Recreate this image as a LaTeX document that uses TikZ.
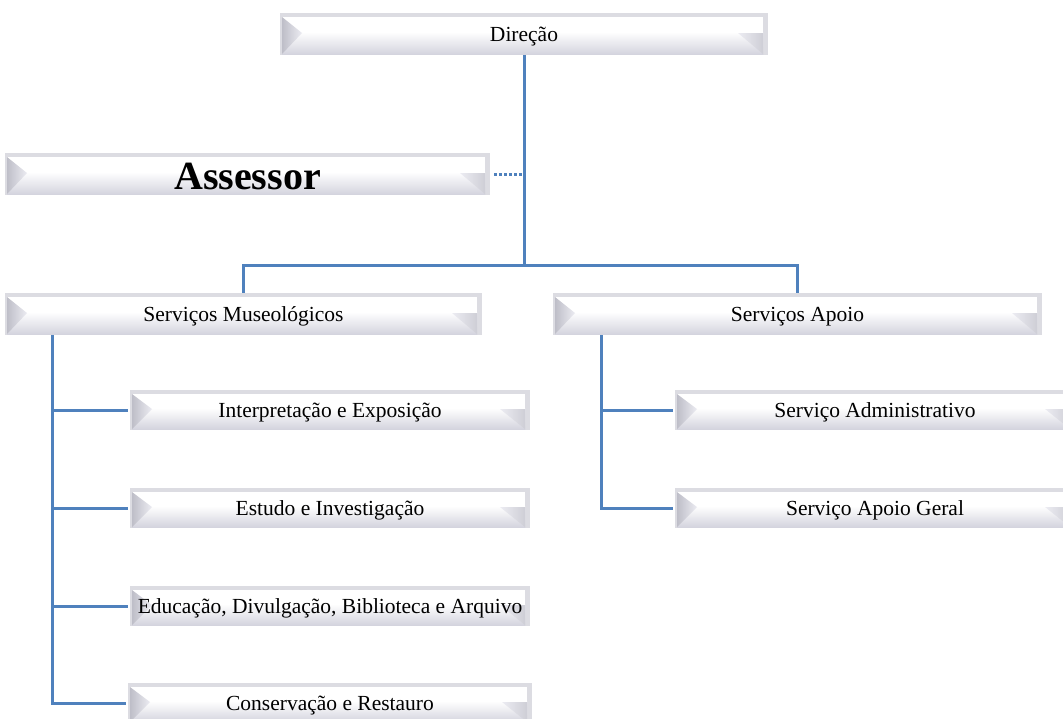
\documentclass[tikz,border=0pt]{standalone}
\usepackage{fontspec}
\setmainfont{Liberation Serif}
\usetikzlibrary{calc}
\definecolor{framegray}{RGB}{220,220,226}
\definecolor{wedgegray}{RGB}{190,190,200}
\definecolor{wedgelight}{RGB}{236,236,242}
\definecolor{rwedge}{RGB}{206,206,214}
\definecolor{botgray}{RGB}{212,212,222}
\definecolor{linkblue}{RGB}{79,129,189}
\tikzset{
  bevbox/.style 2 args={minimum width=#1, minimum height=#2, inner sep=0pt,
    font=\fontsize{21.5}{24}\selectfont, text height=19pt, text depth=4pt,
    path picture={
      \path (path picture bounding box.north west) coordinate (pA)
            (path picture bounding box.south east) coordinate (pB)
            (path picture bounding box.south west) coordinate (pC)
            (path picture bounding box.west) coordinate (pM)
            (path picture bounding box.east) coordinate (pN);
      \fill[framegray] (pA) rectangle (pB);
      \fill[white] ([shift={(2,4)}]pA) rectangle ([shift={(-5,0)}]pN);
      \shade[top color=white, bottom color=botgray] ([shift={(2,-2)}]pM) rectangle ([shift={(-5,-1)}]pB);
      \shade[left color=wedgegray, right color=wedgelight] ([shift={(2,4)}]pA) -- ([shift={(22,-1)}]pM) -- ([shift={(2,-1)}]pC) -- cycle;
      \shade[left color=wedgelight, right color=rwedge] ([shift={(-30,-1)}]pN) -- ([shift={(-5,-1)}]pN) -- ([shift={(-5,-1)}]pB) -- cycle;
    }},
  conn/.style={draw=linkblue, line width=3pt},
  dotconn/.style={draw=linkblue, line width=3pt, dash pattern=on 3pt off 2pt}
}
\begin{document}
\begin{tikzpicture}[x=1pt,y=-1pt]
\useasboundingbox (0,0) rectangle (1063,718);

\node[bevbox={488}{42}] (dir) at (524,34) {Direção};
\node[bevbox={485}{42}, font=\fontsize{40}{44}\selectfont\bfseries, text height=30pt, text depth=0pt] (ass) at (247.5,174) {Assessor};
\node[bevbox={477}{42}] (sm) at (243.5,314) {Serviços Museológicos};
\node[bevbox={489}{42}] (sa) at (797.5,314) {Serviços Apoio};

\node[bevbox={400}{40}] (c1) at (330,410) {Interpretação e Exposição};
\node[bevbox={400}{40}] (c2) at (330,508) {Estudo e Investigação};
\node[bevbox={400}{40}] (c3) at (330,606) {Educação, Divulgação, Biblioteca e Arquivo};
\node[bevbox={404}{40}] (c4) at (330,703) {Conservação e Restauro};

\node[bevbox={400}{40}] (r1) at (875,410) {Serviço Administrativo};
\node[bevbox={400}{40}] (r2) at (875,508) {Serviço Apoio Geral};

\coordinate (bus) at (524,265);
\draw[conn] (dir.south) -- (bus);
\draw[conn] (sm.north) -- (sm.north |- bus) -- (sa.north |- bus) -- (sa.north);
\draw[dotconn, shorten <=4pt] (ass.east) -- (ass.east -| bus);

\coordinate (lsp) at ([xshift=48]sm.south west);
\draw[conn, shorten >=2pt] (lsp) |- (c4.west);
\foreach \c in {c1,c2,c3}{\draw[conn, shorten >=2pt] (lsp |- \c.west) -- (\c.west);}

\coordinate (rsp) at ([xshift=49]sa.south west);
\draw[conn, shorten >=2pt] (rsp) |- (r2.west);
\draw[conn, shorten >=2pt] (rsp |- r1.west) -- (r1.west);
\end{tikzpicture}
\end{document}
